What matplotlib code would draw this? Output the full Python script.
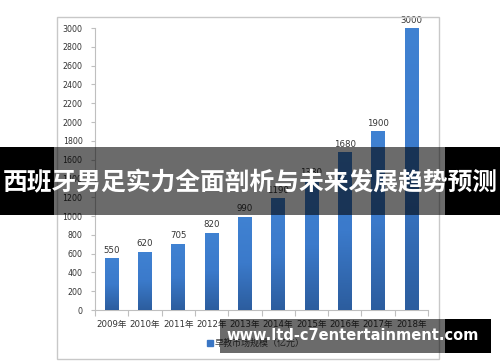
import matplotlib
matplotlib.use("Agg")
import matplotlib.pyplot as plt
import numpy as np
from matplotlib.patches import Rectangle
from matplotlib.colors import LinearSegmentedColormap

years = ["2009年", "2010年", "2011年", "2012年", "2013年", "2014年", "2015年", "2016年", "2017年", "2018年"]
values = [550, 620, 705, 820, 990, 1190, 1380, 1680, 1900, 3000]
yticks = [0, 200, 400, 600, 800, 1000, 1200, 1400, 1600, 1800, 2000, 2200, 2400, 2600, 2800, 3000]
legend_label = "早教市场规模（亿元）"
title = "西班牙男足实力全面剖析与未来发展趋势预测"
watermark = "www.ltd-c7entertainment.com"

plt.rcParams['font.family'] = ['DejaVu Sans', 'Noto Sans CJK SC']

W, H = 500, 362
fig = plt.figure(figsize=(W / 100, H / 100), dpi=100)
fig.patch.set_facecolor("white")

def fx(px):
    return px / W

def fy(py):
    return 1 - py / H

# chart frame
fig.patches.append(Rectangle((fx(57), fy(359)), fx(439) - fx(57), fy(17) - fy(359),
                             transform=fig.transFigure, fill=False, edgecolor="#c8c8c8", lw=1.0, zorder=0))

ax = fig.add_axes([fx(95), fy(310), fx(428) - fx(95), fy(28) - fy(310)])
ax.set_facecolor("none")
x = np.arange(len(years))
bars = ax.bar(x, values, width=0.41, color="#3a76c4", zorder=2)

grad = np.linspace(0, 1, 256).reshape(-1, 1)
cmap = LinearSegmentedColormap.from_list("g", ["#2c5d9e", "#3b7acb", "#4082d2"])
for b in bars:
    x0, y0 = b.get_x(), b.get_y()
    w, h = b.get_width(), b.get_height()
    im = ax.imshow(grad, extent=[x0, x0 + w, y0, y0 + h], origin="lower", cmap=cmap,
                   aspect="auto", zorder=3)
    im.set_clip_path(b)

for xi, v in zip(x, values):
    ax.annotate(str(v), (xi, v), xytext=(0, 2.5), textcoords="offset points",
                ha="center", va="bottom", fontsize=6.2, color="#333333", zorder=4)

ax.set_xlim(-0.5, len(years) - 0.5)
ax.set_ylim(0, 3000)
ax.set_yticks(yticks)
ax.set_yticklabels([str(t) for t in yticks], fontsize=5.7, color="#333333")
ax.set_xticks(x)
ax.set_xticklabels(years, fontsize=6.2, color="#333333")
ax.tick_params(axis="x", length=0, pad=7)
ax.set_xticks(np.arange(-0.5, len(years)), minor=True)
ax.tick_params(axis="x", which="minor", length=4, color="#bfbfbf", width=0.8)
ax.tick_params(axis="y", length=3, color="#bfbfbf", width=0.8, pad=6)
for s in ["top", "right"]:
    ax.spines[s].set_visible(False)
for s in ["left", "bottom"]:
    ax.spines[s].set_color("#bfbfbf")
    ax.spines[s].set_linewidth(0.8)

# legend
fig.patches.append(Rectangle((fx(207), fy(346)), fx(6), fy(340) - fy(346),
                             transform=fig.transFigure, color="#3a76c4", zorder=1))
fig.text(fx(215), fy(343), legend_label, fontsize=6.5, color="#444444", va="center", ha="left",
         family=['Noto Sans CJK SC'], zorder=1)

# title band overlay
band_top, band_bot = 147, 215
fig.patches.append(Rectangle((fx(54), fy(band_bot)), fx(445) - fx(54), fy(band_top) - fy(band_bot),
                             transform=fig.transFigure, color="black", alpha=0.58, lw=0, zorder=5))
fig.patches.append(Rectangle((0, fy(band_bot)), fx(54), fy(band_top) - fy(band_bot),
                             transform=fig.transFigure, color="black", lw=0, zorder=5))
fig.patches.append(Rectangle((fx(445), fy(band_bot)), 1 - fx(445), fy(band_top) - fy(band_bot),
                             transform=fig.transFigure, color="black", lw=0, zorder=5))
t_title = fig.text(0.5, fy(183), title, fontsize=17.8, color="white", weight="bold", ha="center", va="center",
                   family=['Noto Sans CJK SC'], zorder=6)

# watermark band
wb_top, wb_bot = 319, 353
fig.patches.append(Rectangle((fx(220), fy(wb_bot)), fx(445) - fx(220), fy(wb_top) - fy(wb_bot),
                             transform=fig.transFigure, color="black", alpha=0.58, lw=0, zorder=5))
fig.patches.append(Rectangle((fx(445), fy(wb_bot)), fx(491) - fx(445), fy(wb_top) - fy(wb_bot),
                             transform=fig.transFigure, color="black", lw=0, zorder=5))
t_wm = fig.text(fx(352.5), fy(336), watermark, fontsize=12, color="white", weight="bold", ha="center", va="center",
                family=['DejaVu Sans'], zorder=6)

# fit text widths to reference
renderer = fig.canvas.get_renderer()
for t, target in [(t_title, 496), (t_wm, 251)]:
    wpx = t.get_window_extent(renderer).width
    t.set_fontsize(t.get_fontsize() * target / wpx)

fig.savefig("out.png", dpi=100)
